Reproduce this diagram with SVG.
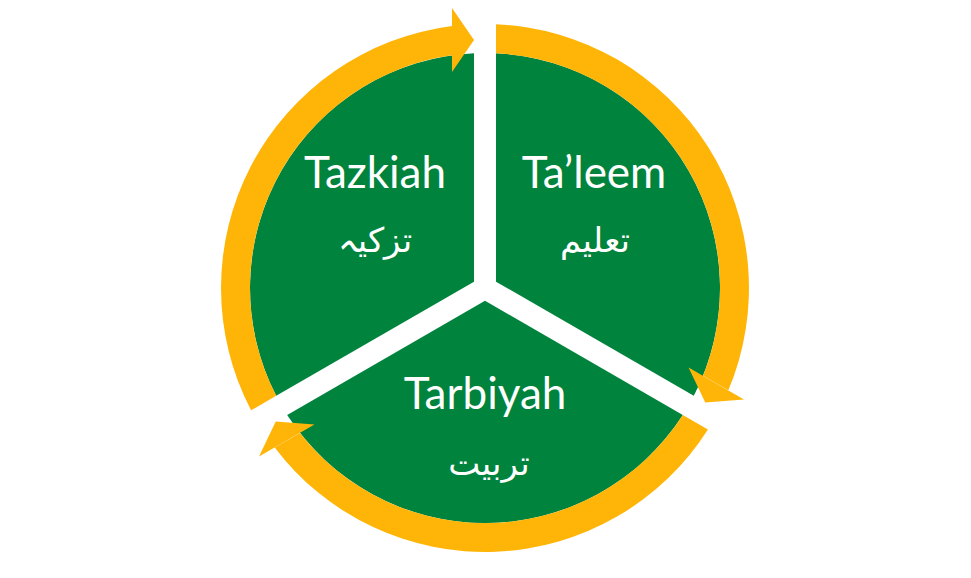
<svg xmlns="http://www.w3.org/2000/svg" width="971" height="578" viewBox="0 0 971 578">
  <style>
    .sector { fill: #00833D; }
    .ring { fill: #FFB508; }
    .en { font-family: Lato, "Liberation Sans", sans-serif; font-size: 44px; fill: #FFFFFF; text-anchor: middle; }
    .ur { font-family: "DejaVu Sans", "Noto Sans", sans-serif; font-size: 34px; fill: #FFFFFF; text-anchor: middle; }
  </style>
  <defs>
    <path id="sectorShape" d="M 474 53.26 L 474 281.65 L 276.21 395.85 A 235 235 0 0 1 474 53.26 Z"/>
    <g id="cycleArrow">
      <path d="M 251.07 410.36 A 264 264 0 0 1 452 26.1 L 452 55.3 A 235 235 0 0 0 276.21 395.85 Z"/>
      <polygon points="452,8 474,40 452,72"/>
    </g>
  </defs>
  <rect x="0" y="0" width="971" height="578" fill="#FFFFFF"/>
  <g id="node-tazkiah">
    <use href="#sectorShape" class="sector"/>
    <text class="en" x="375" y="188">Tazkiah</text>
    <text class="ur" x="375" y="252">تزکیہ</text>
  </g>
  <g id="node-taleem">
    <use href="#sectorShape" class="sector" transform="rotate(120 485 288)"/>
    <text class="en" x="594" y="188">Ta’leem</text>
    <text class="ur" x="595" y="252">تعلیم</text>
  </g>
  <g id="node-tarbiyah">
    <use href="#sectorShape" class="sector" transform="rotate(240 485 288)"/>
    <text class="en" x="485" y="409">Tarbiyah</text>
    <text class="ur" x="489" y="475">تربیت</text>
  </g>
  <g id="connectors" class="ring">
    <use href="#cycleArrow"/>
    <use href="#cycleArrow" transform="rotate(120 485 288)"/>
    <use href="#cycleArrow" transform="rotate(240 485 288)"/>
  </g>
</svg>
